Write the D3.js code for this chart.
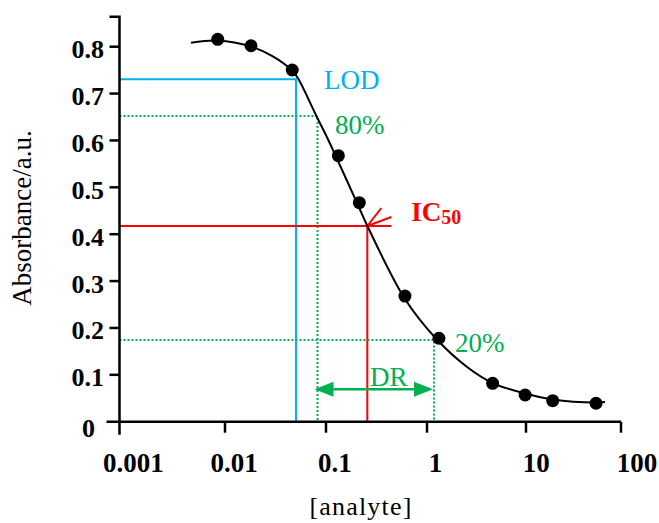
<!DOCTYPE html>
<html><head><meta charset="utf-8">
<script src="https://cdn.jsdelivr.net/npm/d3@7"></script>
<style>html,body{margin:0;padding:0;background:#fff}svg{display:block}</style>
</head><body>
<svg id="chart" width="659" height="523"></svg>
<script>
// ---------- data ----------
const xTicks = [0.001, 0.01, 0.1, 1, 10, 100];
const xTickLabels = ["0.001", "0.01", "0.1", "1", "10", "100"];
const yTicks = [0, 0.1, 0.2, 0.3, 0.4, 0.5, 0.6, 0.7, 0.8];
const yTickLabels = ["0", "0.1", "0.2", "0.3", "0.4", "0.5", "0.6", "0.7", "0.8"];
const yAxisTop = 0.864;

// measured points
const conc = [0.00853, 0.0181, 0.0463, 0.1325, 0.2138, 0.605, 1.32, 4.6, 9.8, 19.1, 54.6];
const absorbance = [0.8158, 0.802, 0.7503, 0.5675, 0.4672, 0.268, 0.178, 0.0819, 0.057, 0.0448, 0.0393];

// fitted curve
const fitConc = [0.00476, 0.00853, 0.0181, 0.0292, 0.0461, 0.0528, 0.0803, 0.1054, 0.2028, 0.257, 0.605, 1.253, 2.52, 4.67, 9.84, 19.1, 54.6, 67.9];
const fitAbs  = [0.8085, 0.8132, 0.8004, 0.7802, 0.7492, 0.7326, 0.6522, 0.601, 0.4666, 0.4175, 0.2618, 0.1758, 0.1173, 0.0819, 0.0602, 0.0474, 0.041, 0.042];

// reference markers
const markerNames = ["LOD", "80%", "IC50", "20%"];
const markerConc = [0.0505, 0.0824, 0.2565, 1.177];
const markerAbs  = [0.7305, 0.652, 0.4175, 0.1743];
const drAbs = 0.069;

const BLUE = "#00b0f0", GREEN = "#00b050", RED = "#ff0000";
const SERIF = "'Liberation Serif','Times New Roman',Times,serif";

// ---------- scales ----------
const x = d3.scaleLog().domain(xTicks).range([119.5, 225, 326, 427, 526, 621]);
const xLab = d3.scaleLog().domain([xTicks[0], xTicks[xTicks.length - 1]]).range([133.3, 637]);
const y = d3.scaleLinear().domain([0, 0.8]).range([421.7, 46.7]);

const svg = d3.select("#chart");
const x0 = x(xTicks[0]);
const y0 = y(0);

// ---------- reference lines ----------
const refStyle = [
  {c: BLUE, dash: null},
  {c: GREEN, dash: "2,2"},
  {c: RED, dash: null},
  {c: GREEN, dash: "2,2"}
];
const ref = svg.append("g");
markerNames.forEach((n, i) => {
  const px = x(markerConc[i]), py = y(markerAbs[i]);
  const st = refStyle[i];
  ref.append("path")
    .attr("d", `M${x0},${py}H${px}V${y0}`)
    .attr("fill", "none").attr("stroke", st.c).attr("stroke-width", 2)
    .attr("stroke-dasharray", st.dash);
});

// IC50 open arrow
{
  const px = x(markerConc[2]), py = y(markerAbs[2]);
  svg.append("path")
    .attr("d", `M${px + 24},${py - 9}L${px},${py}M${px + 14},${py - 18}L${px},${py}L${px + 24},${py}`)
    .attr("fill", "none").attr("stroke", RED).attr("stroke-width", 2);
}

// DR double arrow
{
  const xa = x(markerConc[1]) - 3, xb = x(markerConc[3]) - 1, py = y(drAbs);
  const hl = 19, hw = 7.5;
  svg.append("line").attr("x1", xa + hl - 2).attr("x2", xb - hl + 2)
    .attr("y1", py).attr("y2", py).attr("stroke", GREEN).attr("stroke-width", 2.5);
  svg.append("path").attr("d", `M${xa},${py}L${xa + hl},${py - hw}L${xa + hl},${py + hw}Z`).attr("fill", GREEN);
  svg.append("path").attr("d", `M${xb},${py}L${xb - hl},${py - hw}L${xb - hl},${py + hw}Z`).attr("fill", GREEN);
  svg.append("text").attr("x", (xa + xb) / 2 + 15).attr("y", py - 3)
    .attr("text-anchor", "middle").attr("font-family", SERIF).attr("font-size", 27)
    .attr("fill", GREEN).text("DR");
}

// ---------- curve ----------
const fit = fitConc.map((c, i) => [c, fitAbs[i]]);
svg.append("path")
  .datum(fit)
  .attr("d", d3.line().x(d => x(d[0])).y(d => y(d[1])).curve(d3.curveCatmullRom.alpha(0.5)))
  .attr("fill", "none").attr("stroke", "#000").attr("stroke-width", 2);

// ---------- points ----------
svg.append("g").selectAll("circle")
  .data(conc.map((c, i) => [c, absorbance[i]]))
  .join("circle")
  .attr("cx", d => x(d[0])).attr("cy", d => y(d[1])).attr("r", 6.5).attr("fill", "#000");

// ---------- marker labels ----------
const lab = (t, xx, yy, col, bold) => svg.append("text").attr("x", xx).attr("y", yy)
  .attr("font-family", SERIF).attr("font-size", 27).attr("fill", col)
  .attr("font-weight", bold ? "bold" : "normal").text(t);
lab(markerNames[0], x(markerConc[0]) + 28, y(markerAbs[0]) + 10, BLUE, false);
lab(markerNames[1], x(markerConc[1]) + 17.5, y(markerAbs[1]) + 17.5, GREEN, false);
lab(markerNames[3], x(markerConc[3]) + 21, y(markerAbs[3]) + 12, GREEN, false);
{
  const t = lab("", x(markerConc[2]) + 44, y(markerAbs[2]) - 4.5, RED, true);
  t.append("tspan").text("IC");
  t.append("tspan").attr("font-size", 20).attr("dy", 3).text("50");
}

// ---------- axes ----------
const ax = svg.append("g").attr("stroke", "#000").attr("stroke-width", 2.5).attr("fill", "none");
// y axis line (extends below the x axis)
ax.append("path").attr("d", `M${x0 - 10},${y(yAxisTop)}H${x0}V${y0 + 13}`);
// x axis line (extends left of the y axis)
ax.append("path").attr("d", `M${x0 - 13},${y0}H${x(100)}`);
// y ticks
yTicks.slice(1).forEach(v => ax.append("path").attr("d", `M${x0 - 10},${y(v)}H${x0}`));
// x ticks
xTicks.slice(1).forEach(v => ax.append("path").attr("d", `M${x(v)},${y0}V${y0 + 11}`));

// y tick labels
svg.append("g").selectAll("text").data(yTicks).join("text")
  .attr("x", (d, i) => i === 0 ? 95 : 104)
  .attr("y", (d, i) => i === 0 ? y0 + 15 : y(d) + 11.5)
  .attr("text-anchor", "end").attr("font-family", SERIF).attr("font-weight", "bold")
  .attr("font-size", 26).attr("fill", "#000")
  .text((d, i) => yTickLabels[i]);

// x tick labels
svg.append("g").selectAll("text").data(xTicks).join("text")
  .attr("x", d => xLab(d)).attr("y", 471.7)
  .attr("text-anchor", "middle").attr("font-family", SERIF).attr("font-weight", "bold")
  .attr("font-size", 27).attr("fill", "#000")
  .text((d, i) => xTickLabels[i]);

// axis titles
svg.append("text").attr("transform", "translate(31,218) rotate(-90)")
  .attr("text-anchor", "middle").attr("font-family", SERIF).attr("font-size", 27)
  .attr("fill", "#000").text("Absorbance/a.u.");
svg.append("text").attr("x", 361).attr("y", 515)
  .attr("text-anchor", "middle").attr("font-family", SERIF).attr("font-size", 26)
  .attr("letter-spacing", 1.2).attr("fill", "#000").text("[analyte]");
</script>
</body></html>
